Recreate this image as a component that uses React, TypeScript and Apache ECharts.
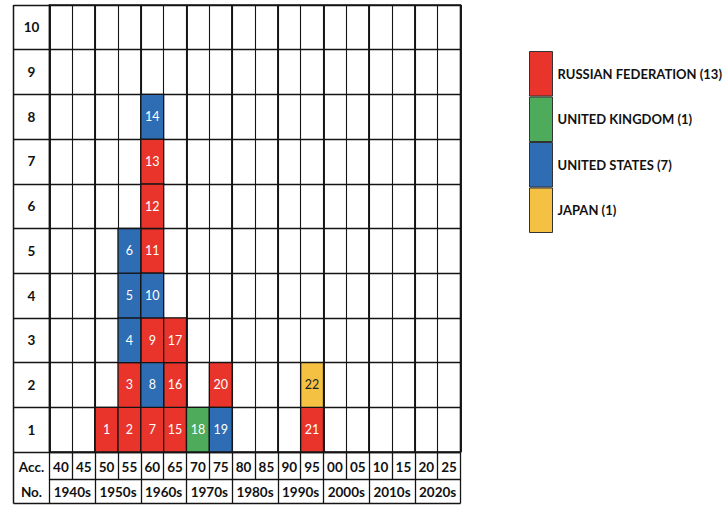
import React, { useEffect, useRef } from "react";
import * as echarts from "echarts";

const years = ["40", "45", "50", "55", "60", "65", "70", "75", "80", "85", "90", "95", "00", "05", "10", "15", "20", "25"];
const decades = ["1940s", "1950s", "1960s", "1970s", "1980s", "1990s", "2000s", "2010s", "2020s"];
const rows = ["1", "2", "3", "4", "5", "6", "7", "8", "9", "10"];

// [year column, row within column, accident number]
const russia: [string, number, number][] = [
  ["50", 1, 1], ["55", 1, 2], ["55", 2, 3], ["60", 1, 7], ["60", 3, 9], ["60", 5, 11],
  ["60", 6, 12], ["60", 7, 13], ["65", 1, 15], ["65", 2, 16], ["65", 3, 17], ["75", 2, 20], ["95", 1, 21],
];
const unitedKingdom: [string, number, number][] = [["70", 1, 18]];
const unitedStates: [string, number, number][] = [
  ["55", 3, 4], ["55", 4, 5], ["55", 5, 6], ["60", 2, 8], ["60", 4, 10], ["60", 8, 14], ["75", 1, 19],
];
const japan: [string, number, number][] = [["95", 2, 22]];

const countryNames = ["RUSSIAN FEDERATION", "UNITED KINGDOM", "UNITED STATES", "JAPAN"];
const countryData = [russia, unitedKingdom, unitedStates, japan];
const countryColors = ["#E8342A", "#4EAB5B", "#2E6DB4", "#F5C143"];
const textColors = ["#ffffff", "#ffffff", "#ffffff", "#222222"];

const FONT = "Lato, 'Open Sans', sans-serif";
const LINE = "#141414";

export default function App() {
  const ref = useRef<HTMLDivElement>(null);
  useEffect(() => {
    if (!ref.current) return;
    const chart = echarts.init(ref.current, undefined, { renderer: "svg" });
    const lineStyle = { color: LINE, width: 1.3 };
    const series = countryNames.map((name, i) => ({
      type: "custom",
      name: `${name} (${countryData[i].length})`,
      coordinateSystem: "cartesian2d",
      xAxisIndex: 0,
      yAxisIndex: 0,
      itemStyle: { color: countryColors[i] },
      encode: { x: 0, y: 1 },
      data: countryData[i].map((d) => [d[0], String(d[1]), d[2]]),
      renderItem: (params: any, api: any) => {
        const c = api.coord([api.value(0), api.value(1)]);
        const s = api.size([1, 1]);
        return {
          type: "rect",
          shape: { x: c[0] - s[0] / 2, y: c[1] - s[1] / 2, width: s[0], height: s[1] },
          style: { fill: countryColors[i], stroke: LINE, lineWidth: 1.3 },
          textContent: {
            style: {
              text: String(api.value(2)),
              fill: textColors[i],
              font: `12.5px ${FONT}`,
            },
          },
          textConfig: { position: "inside" },
        };
      },
      z: 5,
    }));

    chart.setOption({
      animation: false,
      backgroundColor: "#ffffff",
      grid: {
        left: 49.5,
        top: 5,
        width: 411,
        height: 447,
        show: true,
        borderColor: LINE,
        borderWidth: 1.5,
      },
      xAxis: [
        {
          type: "category",
          data: years,
          position: "bottom",
          axisLine: { show: true, lineStyle },
          axisTick: { show: true, length: 27.5, interval: 0, lineStyle },
          axisLabel: {
            interval: 0,
            margin: 8,
            fontFamily: FONT,
            fontWeight: "bold",
            fontSize: 13.5,
            color: "#111",
          },
          splitLine: { show: true, interval: 0, lineStyle: { color: LINE, width: 1.1 } },
        },
        {
          type: "category",
          data: decades,
          position: "bottom",
          offset: 27.5,
          axisLine: { show: true, lineStyle },
          axisTick: { show: true, length: 24, interval: 0, lineStyle },
          axisLabel: {
            interval: 0,
            margin: 5,
            fontFamily: FONT,
            fontWeight: "bold",
            fontSize: 13.5,
            color: "#111",
          },
          splitLine: { show: true, interval: 0, lineStyle: { color: LINE, width: 1.9 } },
        },
      ],
      yAxis: {
        type: "category",
        data: rows,
        axisLine: { show: true, lineStyle },
        axisTick: { show: true, length: 36, interval: 0, lineStyle },
        axisLabel: {
          interval: 0,
          margin: 18,
          align: "center",
          fontFamily: FONT,
          fontWeight: "bold",
          fontSize: 13.5,
          color: "#111",
        },
        splitLine: { show: true, interval: 0, lineStyle: { color: LINE, width: 1.3 } },
      },
      legend: {
        orient: "vertical",
        left: 529,
        top: 51,
        padding: 0,
        itemWidth: 23,
        itemHeight: 44.5,
        itemGap: 0,
        icon: "rect",
        selectedMode: false,
        itemStyle: { borderColor: "#333", borderWidth: 1 },
        textStyle: { fontFamily: FONT, fontWeight: "bold", fontSize: 13, color: "#111" },
      },
      graphic: [
        { type: "line", shape: { x1: 13.5, y1: 5, x2: 13.5, y2: 503.5 }, style: { stroke: LINE, lineWidth: 1.5 } },
        { type: "line", shape: { x1: 13.5, y1: 503.5, x2: 460.5, y2: 503.5 }, style: { stroke: LINE, lineWidth: 1.3 } },
        {
          type: "text",
          x: 31.5,
          y: 467,
          style: { text: "Acc.", font: `bold 13.5px ${FONT}`, fill: "#111", textAlign: "center", textVerticalAlign: "middle" },
        },
        {
          type: "text",
          x: 31.5,
          y: 492,
          style: { text: "No.", font: `bold 13.5px ${FONT}`, fill: "#111", textAlign: "center", textVerticalAlign: "middle" },
        },
      ],
      series,
    });
    return () => chart.dispose();
  }, []);
  return (
    <div
      ref={ref}
      style={{ position: "fixed", left: 0, top: 0, width: 728, height: 505, background: "#fff" }}
    />
  );
}
